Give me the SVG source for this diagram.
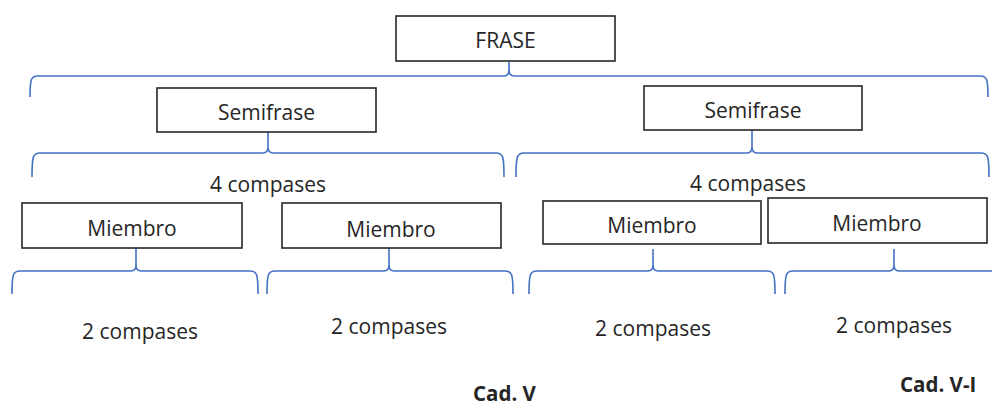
<svg xmlns="http://www.w3.org/2000/svg" width="992" height="406" viewBox="0 0 992 406">
<style>
.box{fill:#fff;stroke:#262626;stroke-width:1.6}
.br{fill:none;stroke:#4472C4;stroke-width:1.6;stroke-linejoin:round}
.t{font-family:"Open Sans","Liberation Sans",sans-serif;font-size:21px;fill:#262626;text-anchor:middle}
.b{font-family:"Open Sans","Liberation Sans",sans-serif;font-size:20.5px;font-weight:bold;fill:#262626;text-anchor:start}
</style>
<rect width="992" height="406" fill="#fff"/>
<g id="connectors">
  <path class="br" d="M30,97 C30,79 31,76 38,76 L504,76 Q509,76 509,70 L509,62 M988,97 C988,79 987,76 980,76 L514,76 Q509,76 509,70"/>
  <path class="br" d="M32,177 C32,156 33,153 40,153 L263,153 Q268,153 268,147 L268,132 M504,177 C504,156 503,153 496,153 L273,153 Q268,153 268,147"/>
  <path class="br" d="M516,177 C516,156 517,153 524,153 L747,153 Q752,153 752,147 L752,130 M989,177 C989,156 988,153 981,153 L757,153 Q752,153 752,147"/>
  <path class="br" d="M12,294 C12,274 13,271 20,271 L131,271 Q136,271 136,265 L136,248 M258,294 C258,274 257,271 250,271 L141,271 Q136,271 136,265"/>
  <path class="br" d="M267,294 C267,274 268,271 275,271 L384,271 Q389,271 389,265 L389,248 M513,294 C513,274 512,271 505,271 L394,271 Q389,271 389,265"/>
  <path class="br" d="M529,294 C529,274 530,271 537,271 L648,271 Q653,271 653,265 L653,249 M775,294 C775,274 774,271 767,271 L658,271 Q653,271 653,265"/>
  <path class="br" d="M785,294 C785,274 786,271 793,271 L889,271 Q894,271 894,265 L894,249 M996,271 L899,271 Q894,271 894,265"/>
</g>
<g id="frase"><rect class="box" x="396" y="16" width="219" height="45"/><text class="t" x="505.5" y="48">FRASE</text></g>
<g id="semifrase1"><rect class="box" x="157" y="88" width="219" height="44"/><text class="t" x="266.5" y="119.5">Semifrase</text></g>
<g id="semifrase2"><rect class="box" x="644" y="86" width="218" height="44"/><text class="t" x="753" y="117.5">Semifrase</text></g>
<g id="compases4a"><text class="t" x="268" y="192">4 compases</text></g>
<g id="compases4b"><text class="t" x="748" y="191">4 compases</text></g>
<g id="miembro1"><rect class="box" x="22" y="203" width="220" height="45"/><text class="t" x="132" y="235.5">Miembro</text></g>
<g id="miembro2"><rect class="box" x="282" y="203" width="219" height="45"/><text class="t" x="391" y="236.5">Miembro</text></g>
<g id="miembro3"><rect class="box" x="543" y="201" width="218" height="43"/><text class="t" x="652" y="232.5">Miembro</text></g>
<g id="miembro4"><rect class="box" x="768" y="198" width="219" height="45"/><text class="t" x="877" y="230.5">Miembro</text></g>
<g id="compases2a"><text class="t" x="140" y="339">2 compases</text></g>
<g id="compases2b"><text class="t" x="389" y="334">2 compases</text></g>
<g id="compases2c"><text class="t" x="653" y="336">2 compases</text></g>
<g id="compases2d"><text class="t" x="894" y="333">2 compases</text></g>
<g id="cadV"><text class="b" x="473" y="401">Cad. V</text></g>
<g id="cadVI"><text class="b" x="900" y="392">Cad. V-I</text></g>
</svg>
